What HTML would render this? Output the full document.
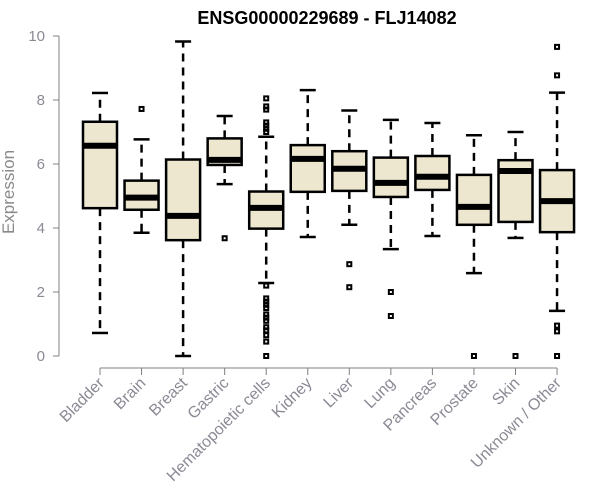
<!DOCTYPE html>
<html><head><meta charset="utf-8"><style>
body{margin:0;background:#fff;}
svg{display:block;font-family:"Liberation Sans",Arial,sans-serif;}
</style></head><body>
<svg id="chart" width="600" height="500" viewBox="0 0 600 500">
<text x="327" y="24" text-anchor="middle" font-size="18" font-weight="bold">ENSG00000229689 - FLJ14082</text>
<text transform="translate(14,192) rotate(-90)" text-anchor="middle" font-size="17" fill="#8a8a8a">Expression</text>
<g id="yaxis"></g>
<g id="xaxis"></g>
<g id="boxes"></g>
</svg>
<script>
const categories=["Bladder","Brain","Breast","Gastric","Hematopoietic cells","Kidney","Liver","Lung","Pancreas","Prostate","Skin","Unknown / Other"];
const whiskerLow=[0.72,3.85,0,5.37,2.28,3.72,4.1,3.34,3.75,2.59,3.69,1.41];
const q1=[4.62,4.57,3.62,5.97,3.98,5.13,5.16,4.97,5.19,4.1,4.19,3.87];
const medians=[6.57,4.95,4.38,6.13,4.63,6.16,5.85,5.41,5.6,4.66,5.78,4.84];
const q3=[7.32,5.48,6.14,6.8,5.14,6.59,6.4,6.2,6.25,5.66,6.12,5.81];
const whiskerHigh=[8.22,6.77,9.83,7.5,6.85,8.31,7.67,7.38,7.28,6.9,7.0,8.23];
const outliers=[[],[7.72],[],[3.68],[8.05,7.8,7.7,7.3,7.2,7.1,7.0,2.2,1.8,1.7,1.6,1.5,1.3,1.2,1.1,0.9,0.8,0.65,0.45,0],[],[2.87,2.15],[2.0,1.25],[],[0],[0],[9.66,8.77,0.95,0.77,0]];
const yTicks=[0,2,4,6,8,10];
const NS="http://www.w3.org/2000/svg";
const y=v=>356-v*32;
const x=i=>100+i*41.55;
function mk(tag,attrs,parent){const e=document.createElementNS(NS,tag);for(const k in attrs)e.setAttribute(k,attrs[k]);parent.appendChild(e);return e;}
const ya=document.getElementById('yaxis'),xa=document.getElementById('xaxis'),bx=document.getElementById('boxes');
let l=mk('line',{x1:59,x2:59,y1:y(0),y2:y(10),stroke:'#808080'},ya);


yTicks.forEach(t=>{
 const tk=mk('line',{x1:53,x2:59,y1:y(t),y2:y(t),stroke:'#808080'},ya);
 
 
 const tx=mk('text',{x:45,y:y(t)+5,'text-anchor':'end','font-size':15,fill:'#8a8a95'},ya);
 tx.textContent=t;
 
 
});
l=mk('line',{x1:x(0),x2:x(categories.length-1),y1:368,y2:368,stroke:'#808080'},xa);


categories.forEach((c,i)=>{
 const cx=x(i);
 const tk=mk('line',{x1:cx,x2:cx,y1:368,y2:375,stroke:'#808080'},xa);
 
 
 const tx=mk('text',{transform:`translate(${cx+5},384) rotate(-45)`,'text-anchor':'end','font-size':16,fill:'#8a8a95'},xa);
 tx.textContent=c;
 
 
 const g=mk('g',{},bx);
 
 
 const hw=17;
 mk('line',{x1:cx,x2:cx,y1:y(q3[i]),y2:y(whiskerHigh[i]),stroke:'#000','stroke-width':2.5,'stroke-dasharray':'8,6'},g);
 mk('line',{x1:cx,x2:cx,y1:y(q1[i]),y2:y(whiskerLow[i]),stroke:'#000','stroke-width':2.5,'stroke-dasharray':'8,6'},g);
 mk('line',{x1:cx-8,x2:cx+8,y1:y(whiskerHigh[i]),y2:y(whiskerHigh[i]),stroke:'#000','stroke-width':2.5},g);
 mk('line',{x1:cx-8,x2:cx+8,y1:y(whiskerLow[i]),y2:y(whiskerLow[i]),stroke:'#000','stroke-width':2.5},g);
 mk('rect',{x:cx-hw,y:y(q3[i]),width:hw*2,height:y(q1[i])-y(q3[i]),fill:'#ede7cf',stroke:'#000','stroke-width':2.5},g);
 mk('line',{x1:cx-hw,x2:cx+hw,y1:y(medians[i]),y2:y(medians[i]),stroke:'#000','stroke-width':6},g);
 outliers[i].forEach(v=>{
  const o=mk('rect',{x:cx-2,y:y(v)-2,width:4,height:4,fill:'none',stroke:'#000','stroke-width':2},g);
  
  
 });
});
</script>
</body></html>
